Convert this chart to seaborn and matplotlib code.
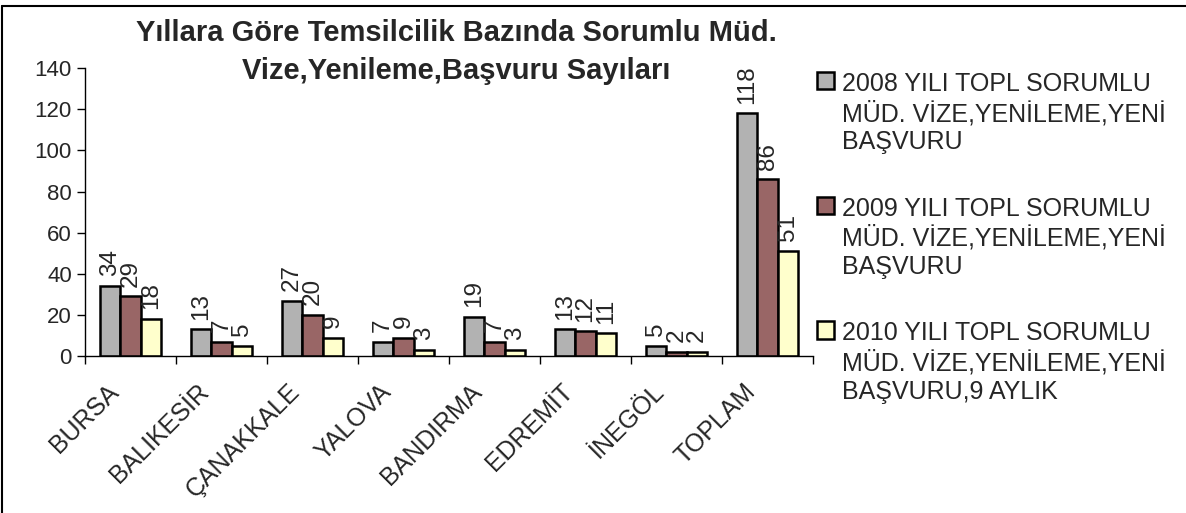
import numpy as np
import pandas as pd
import matplotlib
matplotlib.use('Agg')
import matplotlib.pyplot as plt
import matplotlib.transforms as mtransforms
import seaborn as sns

sns.set_style('white')
plt.rcParams['font.family'] = ['Liberation Sans', 'DejaVu Sans']

# data
cities = ['BURSA', 'BALIKESİR', 'ÇANAKKALE', 'YALOVA', 'BANDIRMA', 'EDREMİT', 'İNEGÖL', 'TOPLAM']
v2008 = [34, 13, 27, 7, 19, 13, 5, 118]
v2009 = [29, 7, 20, 9, 7, 12, 2, 86]
v2010 = [18, 5, 9, 3, 3, 11, 2, 51]
series = ['2008 YILI TOPL SORUMLU\nMÜD. VİZE,YENİLEME,YENİ\nBAŞVURU',
          '2009 YILI TOPL SORUMLU\nMÜD. VİZE,YENİLEME,YENİ\nBAŞVURU',
          '2010 YILI TOPL SORUMLU\nMÜD. VİZE,YENİLEME,YENİ\nBAŞVURU,9 AYLIK']
colors = ['#B2B2B2', '#996666', '#FFFFCC']

df = pd.DataFrame({
    'Temsilcilik': cities * 3,
    'Sayi': v2008 + v2009 + v2010,
    'Seri': [series[0]] * 8 + [series[1]] * 8 + [series[2]] * 8,
})

fig = plt.figure(figsize=(11.86, 5.13), dpi=100)
ax = fig.add_axes([0.0717, 0.306, 0.6138, 0.561])

sns.barplot(data=df, x='Temsilcilik', y='Sayi', hue='Seri', palette=colors,
            width=0.68, edgecolor='black', linewidth=1.8, saturation=1, ax=ax, legend=False)

for c in ax.containers:
    ax.bar_label(c, rotation=90, fontsize=17.5, padding=7)

ax.set_ylim(0, 140)
ax.set_xlim(-0.5, 7.5)
ax.set_yticks(range(0, 141, 20))
ax.set_xlabel('')
ax.set_ylabel('')
ax.tick_params(axis='y', labelsize=16, left=True, length=6, width=1, color='black', direction='out')
ax.set_xticks(range(8))
ax.set_xticklabels(cities, rotation=45, ha='right', va='center', rotation_mode='anchor', fontsize=18)
ax.tick_params(axis='x', which='major', bottom=False, pad=0)
shift = mtransforms.ScaledTranslation(-0.16, -0.27, fig.dpi_scale_trans)
for lbl in ax.get_xticklabels():
    lbl.set_transform(lbl.get_transform() + shift)
ax.set_xticks(np.arange(-0.5, 8, 1), minor=True)
ax.tick_params(axis='x', which='minor', bottom=True, length=6, width=1, color='black', direction='out')
for s in ['top', 'right']:
    ax.spines[s].set_visible(False)
for s in ['left', 'bottom']:
    ax.spines[s].set_color('black')
    ax.spines[s].set_linewidth(1)

fig.text(0.385, 0.898, 'Yıllara Göre Temsilcilik Bazında Sorumlu Müd.\nVize,Yenileme,Başvuru Sayıları',
         ha='center', va='center', fontsize=21, fontweight='bold', linespacing=1.45)

handles = [plt.Rectangle((0, 0), 1, 1, facecolor=c, edgecolor='black', linewidth=1.8) for c in colors]
leg = fig.legend(handles, series, loc='upper left', bbox_to_anchor=(0.6805, 0.879), frameon=False,
                 fontsize=18, handlelength=0.68, handleheight=0.68, handletextpad=0.3,
                 labelspacing=1.7, borderaxespad=0)
for t in leg.get_texts():
    t.set_linespacing(1.22)
# put the square next to the first line of each entry
for col in leg._legend_handle_box.get_children():
    for item in col.get_children():
        item.align = 'top'

# frame lines (top and left only, as in the cropped original)
fig.add_artist(plt.Line2D([0.002, 1.0], [0.988, 0.988], transform=fig.transFigure, color='black', linewidth=1.5))
fig.add_artist(plt.Line2D([0.002, 0.002], [0.0, 0.988], transform=fig.transFigure, color='black', linewidth=1.5))

fig.savefig('out.png', dpi=100)
